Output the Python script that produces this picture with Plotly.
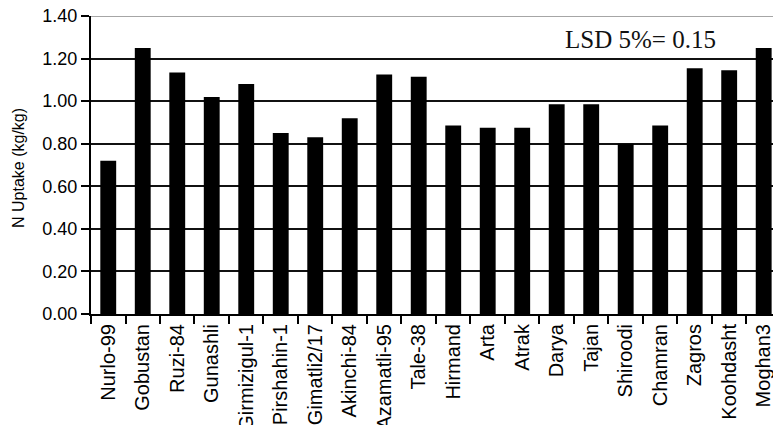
import plotly.graph_objects as go

categories = ["Nurlo-99", "Gobustan", "Ruzi-84", "Gunashli", "Girmizigul-1",
              "Pirshahin-1", "Gimatli2/17", "Akinchi-84", "Azamatli-95", "Tale-38",
              "Hirmand", "Arta", "Atrak", "Darya", "Tajan", "Shiroodi", "Chamran",
              "Zagros", "Koohdasht", "Moghan3"]
n_uptake = [0.72, 1.25, 1.135, 1.02, 1.08, 0.85, 0.83, 0.92, 1.125, 1.115,
            0.885, 0.875, 0.875, 0.985, 0.985, 0.80, 0.885, 1.155, 1.145, 1.25]
y_ticks = [0.0, 0.2, 0.4, 0.6, 0.8, 1.0, 1.2, 1.4]

fig = go.Figure(go.Bar(x=categories, y=n_uptake, marker=dict(color="black", line=dict(width=0))))

fig.add_annotation(x=15.42, y=1.29, xref="x", yref="y", text="LSD 5%= 0.15", showarrow=False,
                   font=dict(family="Liberation Serif", size=25, color="#111"))
fig.add_annotation(x=-0.1056, y=0.49, xref="paper", yref="paper", text="N Uptake (kg/kg)",
                   textangle=-90, showarrow=False, xanchor="center", yanchor="middle",
                   font=dict(family="Liberation Sans", size=16, color="black"))

fig.update_layout(
    width=773, height=425,
    margin=dict(l=91, r=0, t=16, b=111, autoexpand=False),
    paper_bgcolor="white", plot_bgcolor="white",
    bargap=0.54, showlegend=False,
    font=dict(family="Liberation Sans", size=18, color="black"),
)
fig.update_xaxes(type="category", range=[-0.5, 19.27], tickangle=-90, tickson="boundaries",
                 ticks="outside", ticklen=8, tickcolor="black", tickwidth=1.5,
                 showline=True, linecolor="black", automargin=False,
                 linewidth=2, showgrid=False, tickfont=dict(size=20, family="Liberation Sans"))
fig.update_yaxes(range=[0, 1.4], tickvals=y_ticks, tickformat=".2f", ticks="outside", ticklen=8,
                 tickcolor="black", tickwidth=1.5, showline=True, linecolor="black", linewidth=2,
                 showgrid=True, gridcolor="#111", gridwidth=1.5, zeroline=False, automargin=False,
                 tickfont=dict(size=18, family="Liberation Sans"))
fig.add_hline(y=1.4, line=dict(color="#888", width=1.5), layer="below")
fig.write_html("out.html", config={"displayModeBar": False},
               post_script="document.body.style.margin='0';document.body.style.overflow='hidden';")
